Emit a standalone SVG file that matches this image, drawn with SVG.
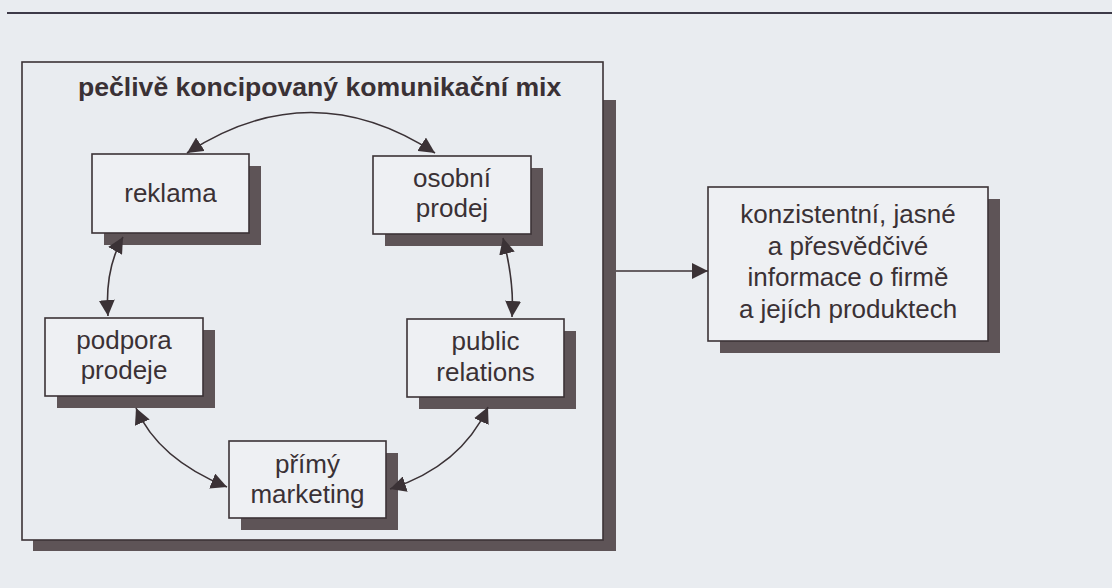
<svg xmlns="http://www.w3.org/2000/svg" width="1112" height="588" viewBox="0 0 1112 588">
  <defs>
    <style>
      .bg { fill: #e9ecf0; }
      .box { fill: #eef0f3; stroke: #3b3236; stroke-width: 1.6; }
      .shadow { fill: #5e5457; }
      .lbl { font-family: "Liberation Sans", Arial, sans-serif; font-size: 26px; fill: #3a3135; text-anchor: middle; }
      .title { font-family: "Liberation Sans", Arial, sans-serif; font-size: 26.6px; font-weight: bold; fill: #3a3135; }
      .conn { fill: none; stroke: #3b3236; stroke-width: 1.6; }
    </style>
    <marker id="ah" viewBox="0 0 16 16" refX="16" refY="8" markerWidth="16" markerHeight="16" markerUnits="userSpaceOnUse" orient="auto-start-reverse">
      <path d="M0,0 L16,8 L0,16 Z" fill="#3b3236"/>
    </marker>
  </defs>

  <rect class="bg" x="0" y="0" width="1112" height="588"/>
  <line x1="7" y1="13" x2="1112" y2="13" stroke="#3d3a48" stroke-width="2"/>

  <g id="mix">
    <rect class="shadow" x="33" y="100" width="583" height="451"/>
    <rect class="box" x="22" y="62" width="581" height="478" style="fill:#e9ecf0"/>
    <text class="title" x="78" y="96">pečlivě koncipovaný komunikační mix</text>
  </g>

  <g id="reklama">
    <rect class="shadow" x="104" y="166" width="157" height="79"/>
    <rect class="box" x="92" y="154" width="157" height="79"/>
    <text class="lbl" x="170.5" y="202">reklama</text>
  </g>

  <g id="osobni-prodej">
    <rect class="shadow" x="385" y="168" width="158" height="78"/>
    <rect class="box" x="373" y="156" width="158" height="78"/>
    <text class="lbl" x="452" y="187">osobní</text>
    <text class="lbl" x="452" y="217">prodej</text>
  </g>

  <g id="podpora-prodeje">
    <rect class="shadow" x="57" y="330" width="158" height="78"/>
    <rect class="box" x="45" y="318" width="158" height="78"/>
    <text class="lbl" x="124" y="349">podpora</text>
    <text class="lbl" x="124" y="379">prodeje</text>
  </g>

  <g id="public-relations">
    <rect class="shadow" x="419" y="331" width="157" height="78"/>
    <rect class="box" x="407" y="319" width="157" height="78"/>
    <text class="lbl" x="485.5" y="350">public</text>
    <text class="lbl" x="485.5" y="381">relations</text>
  </g>

  <g id="primy-marketing">
    <rect class="shadow" x="241" y="453" width="157" height="77"/>
    <rect class="box" x="229" y="441" width="157" height="77"/>
    <text class="lbl" x="307.5" y="473">přímý</text>
    <text class="lbl" x="307.5" y="503">marketing</text>
  </g>

  <g id="informace">
    <rect class="shadow" x="720" y="199" width="280" height="154"/>
    <rect class="box" x="708" y="187" width="280" height="154"/>
    <text class="lbl" x="848" y="223">konzistentní, jasné</text>
    <text class="lbl" x="848" y="255">a přesvědčivé</text>
    <text class="lbl" x="848" y="286">informace o firmě</text>
    <text class="lbl" x="848" y="318">a jejích produktech</text>
  </g>

  <g id="connectors">
    <path class="conn" d="M187,153 Q311,72 435,153" marker-start="url(#ah)" marker-end="url(#ah)"/>
    <path class="conn" d="M123,237 Q104.5,269.5 108,316" marker-start="url(#ah)" marker-end="url(#ah)"/>
    <path class="conn" d="M503,238 Q514.5,282.5 512,317" marker-start="url(#ah)" marker-end="url(#ah)"/>
    <path class="conn" d="M136,408 Q158,459 227,487" marker-start="url(#ah)" marker-end="url(#ah)"/>
    <path class="conn" d="M488,407 Q461,466 390,489" marker-start="url(#ah)" marker-end="url(#ah)"/>
    <path class="conn" d="M616,271 H708" marker-end="url(#ah)"/>
  </g>
</svg>
